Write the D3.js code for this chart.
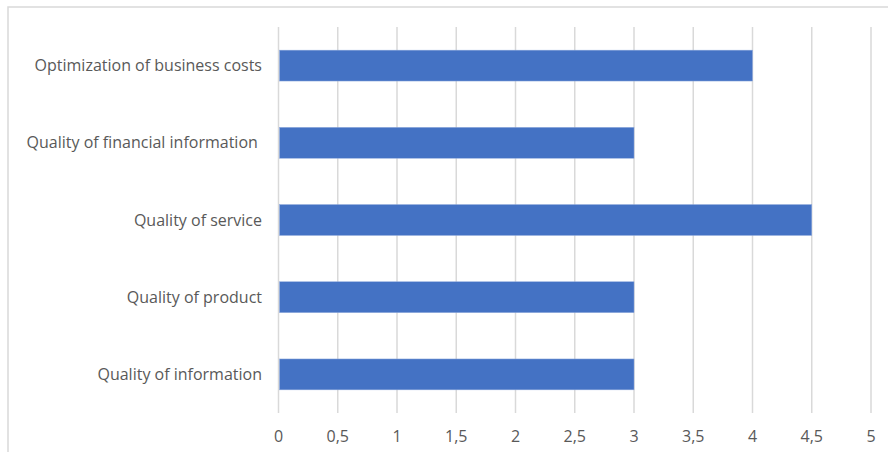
<!DOCTYPE html>
<html>
<head>
<meta charset="utf-8">
<script src="https://cdn.jsdelivr.net/npm/d3@7"></script>
<style>
  body { margin: 0; background: #fff; }
  svg text { font-family: "Open Sans", "Noto Sans", sans-serif; fill: #595959; white-space: pre; }
</style>
</head>
<body>
<div id="chart"></div>
<script>
const categories = ["Optimization of business costs", "Quality of financial information ", "Quality of service", "Quality of product", "Quality of information"];
const values = [4, 3, 4.5, 3, 3];
const tickValues = [0, 0.5, 1, 1.5, 2, 2.5, 3, 3.5, 4, 4.5, 5];

const width = 888, height = 452;
const margin = { top: 27, right: 17, bottom: 39, left: 278.5 };

const svg = d3.select("#chart").append("svg")
    .attr("width", width)
    .attr("height", height);

// chart frame (runs off the right and bottom edge)
svg.append("rect")
    .attr("x", 8).attr("y", 7)
    .attr("width", 900).attr("height", 470)
    .attr("fill", "none")
    .attr("stroke", "#d9d9d9")
    .attr("stroke-width", 1.5);

const x = d3.scaleLinear().domain([0, 5]).range([margin.left, width - margin.right]);
const y = d3.scaleBand().domain(categories).range([margin.top, height - margin.bottom]).paddingInner(0.6).paddingOuter(0.3);

// gridlines
svg.append("g")
    .selectAll("line")
    .data(tickValues)
    .join("line")
    .attr("x1", d => x(d)).attr("x2", d => x(d))
    .attr("y1", margin.top).attr("y2", height - margin.bottom)
    .attr("stroke", "#d9d9d9")
    .attr("stroke-width", 1.5);

// bars
svg.append("g")
    .selectAll("rect")
    .data(values)
    .join("rect")
    .attr("x", x(0) + 1)
    .attr("y", (d, i) => y(categories[i]))
    .attr("width", d => x(d) - x(0) - 1)
    .attr("height", y.bandwidth())
    .attr("fill", "#4472c4")
    .attr("stroke", "#8fa9dc")
    .attr("stroke-width", 0.5);

// x tick labels
svg.append("g")
    .selectAll("text")
    .data(tickValues)
    .join("text")
    .attr("x", d => x(d))
    .attr("y", 442)
    .attr("text-anchor", "middle")
    .attr("font-size", 16)
    .text(d => String(d).replace(".", ","));

// category labels
svg.append("g")
    .selectAll("text")
    .data(categories)
    .join("text")
    .attr("x", 262)
    .attr("y", d => y(d) + y.bandwidth() / 2)
    .attr("dy", "0.35em")
    .attr("text-anchor", "end")
    .attr("font-size", 16)
    .text(d => d);
</script>
</body>
</html>
